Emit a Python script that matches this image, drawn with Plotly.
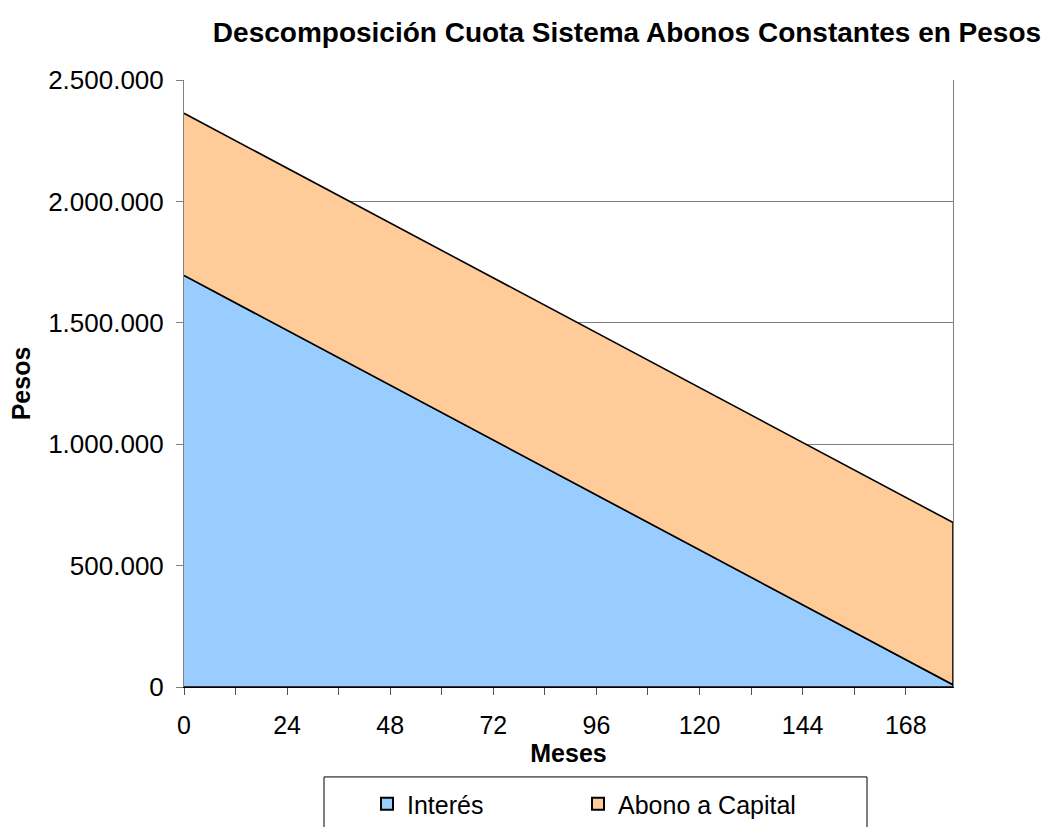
import plotly.graph_objects as go

# Data (months and pesos)
months = [0, 12, 24, 36, 48, 60, 72, 84, 96, 108, 120, 132, 144, 156, 168, 179]
interes = [1695000, 1582000, 1469000, 1356000, 1243000, 1130000, 1017000, 904000,
           791000, 678000, 565000, 452000, 339000, 226000, 113000, 9400]
abono_capital = [668000] * len(months)
x_tick_vals = [0, 12, 24, 36, 48, 60, 72, 84, 96, 108, 120, 132, 144, 156, 168]
x_tick_text = ["0", "", "24", "", "48", "", "72", "", "96", "", "120", "", "144", "", "168"]
y_tick_vals = [0, 500000, 1000000, 1500000, 2000000, 2500000]

total = [i + a for i, a in zip(interes, abono_capital)]

FONT = "Liberation Sans, Arial, sans-serif"
BLUE = "#99CCFF"
ORANGE = "#FFCC99"

fig = go.Figure()

# Interés area (closed polygon down to zero)
fig.add_trace(go.Scatter(
    x=months + [months[-1], months[0]],
    y=interes + [0, 0],
    fill="toself", fillcolor=BLUE, mode="lines",
    line=dict(color="black", width=1.6),
    name="Interés", showlegend=False, hoverinfo="skip"))

# Abono a Capital area stacked on top of Interés
fig.add_trace(go.Scatter(
    x=months + months[::-1],
    y=total + interes[::-1],
    fill="toself", fillcolor=ORANGE, mode="lines",
    line=dict(color="black", width=1.6),
    name="Abono a Capital", showlegend=False, hoverinfo="skip"))

# Legend entries (each in its own legend for exact placement)
for name, color, lg in [("Interés", BLUE, "legend"), ("Abono a Capital", ORANGE, "legend2")]:
    fig.add_trace(go.Scatter(
        x=[None], y=[None], mode="markers", name=name, legend=lg,
        marker=dict(symbol="square", size=16, color=color,
                    line=dict(color="black", width=1))))

L, R, T, B = 184, 100, 79.5, 140
W, H = 1053, 827
pw, ph = W - L - R, H - T - B

def px2paperx(px):
    return (px - L) / pw

def px2papery(py):
    return (H - B - py) / ph

legend_common = dict(orientation="h", xanchor="left",
                     yref="container", y=1 - 781 / H, yanchor="top",
                     bgcolor="rgba(0,0,0,0)", borderwidth=0,
                     font=dict(size=25), itemsizing="constant")

fig.update_layout(
    width=W, height=H,
    margin=dict(l=L, r=R, t=T, b=B, pad=0),
    paper_bgcolor="white", plot_bgcolor="white",
    separators=",.",
    font=dict(family=FONT, size=25, color="black"),
    title=dict(text="<b>Descomposición Cuota Sistema Abonos Constantes en Pesos</b>",
               x=627 / W, xanchor="center", y=1 - 32 / H, yanchor="middle",
               font=dict(family=FONT, size=28, color="black")),
    xaxis=dict(range=[0, 179], tickmode="array", tickvals=x_tick_vals, ticktext=x_tick_text,
               ticks="outside", ticklen=7, tickcolor="#555555", tickwidth=1,
               showline=True, linecolor="black", linewidth=1, showgrid=False, zeroline=False,
               tickfont=dict(size=25), ticklabelstandoff=9,
               title=dict(text="<b>Meses</b>", font=dict(size=25), standoff=1)),
    yaxis=dict(range=[0, 2500000], tickmode="array", tickvals=y_tick_vals,
               tickformat=",d", ticks="outside", ticklen=7, tickcolor="#808080", tickwidth=1,
               showline=True, linecolor="#808080", linewidth=1, mirror=True,
               showgrid=True, gridcolor="#808080", gridwidth=1, zeroline=False,
               tickfont=dict(size=26), ticklabelstandoff=7,
               title=dict(text="<b>Pesos</b>", font=dict(size=25), standoff=10)),
    legend=dict(x=px2paperx(367), **legend_common),
    legend2=dict(x=px2paperx(578), **legend_common),
    shapes=[dict(type="rect", xref="paper", yref="paper",
                 x0=px2paperx(324), x1=px2paperx(867),
                 y0=px2papery(777), y1=px2papery(840),
                 line=dict(color="black", width=1), fillcolor="white", layer="below")],
    showlegend=True,
)

fig.write_html("out.html")
